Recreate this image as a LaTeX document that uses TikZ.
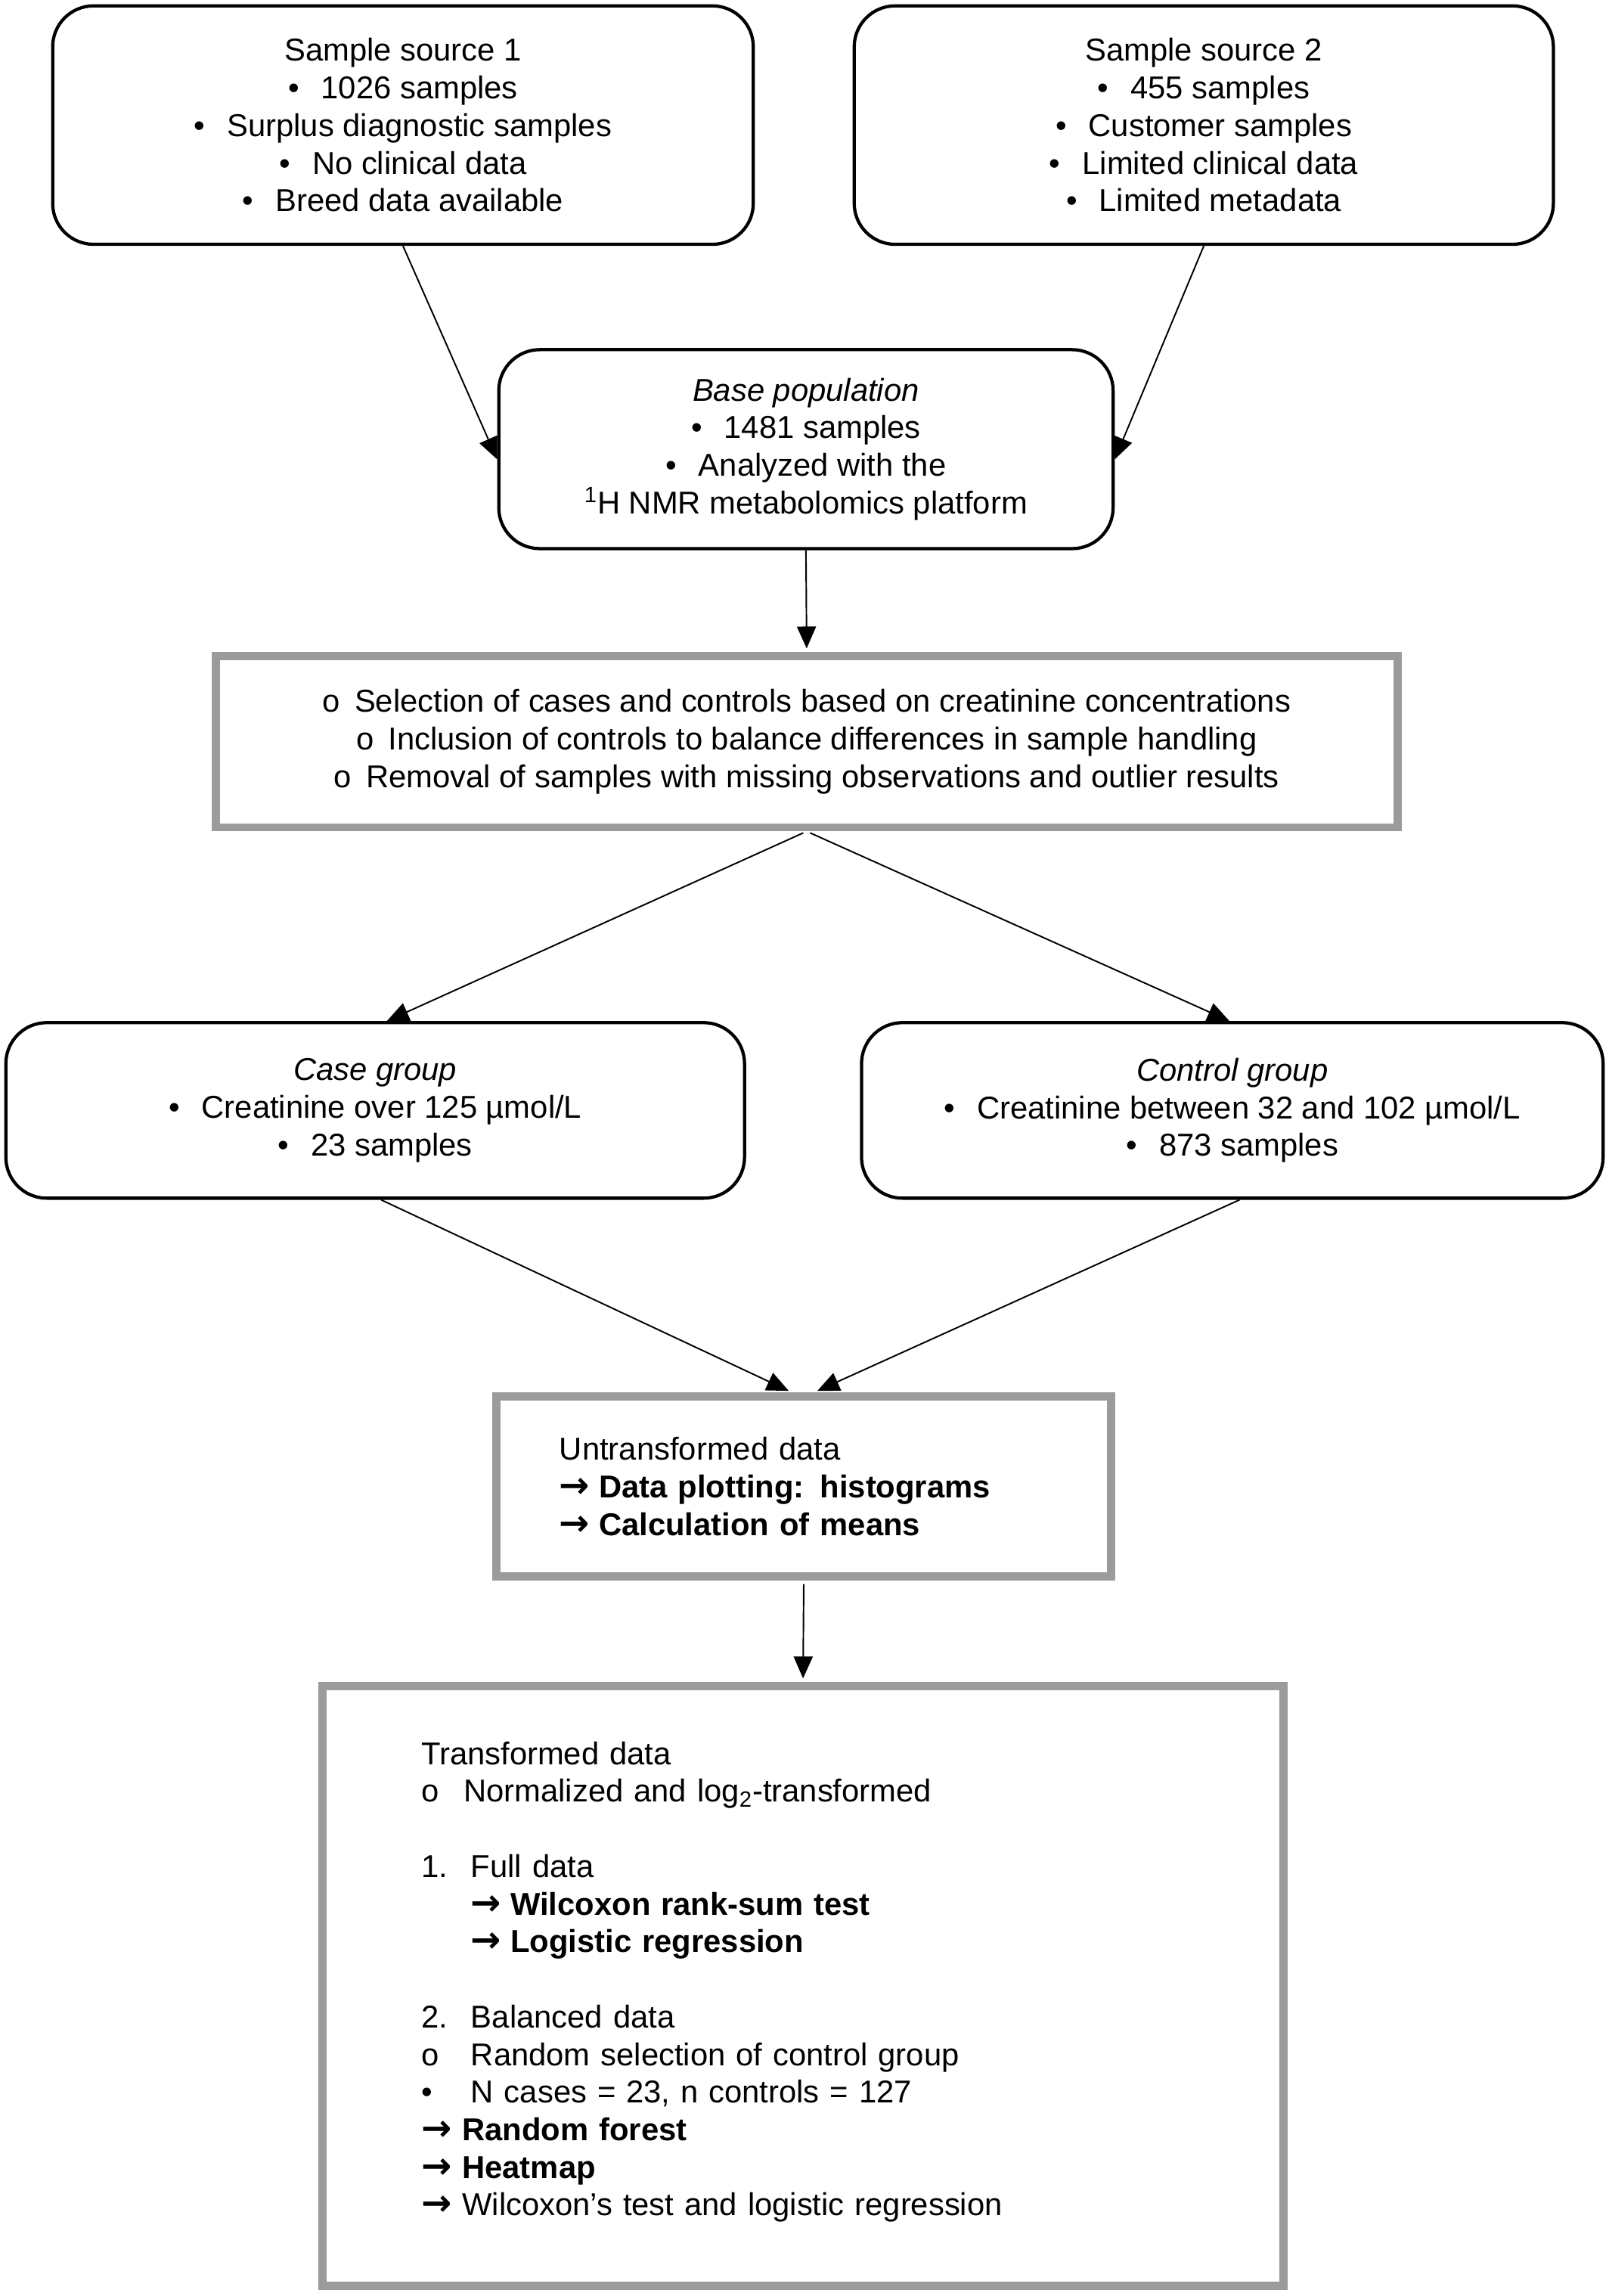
\documentclass[tikz,border=0pt]{standalone}
\usepackage{fontspec}
\setmainfont{Liberation Sans}
\newfontfamily\symfont{DejaVu Sans}
\usetikzlibrary{arrows.meta}
\definecolor{boxgray}{RGB}{155,155,155}
\newcommand{\bul}{•\hspace{15pt}}
\newcommand{\circb}{o\hspace{10pt}}
\newcommand{\arr}[1]{\makebox[#1][l]{\scalebox{1.15}{\symfont\bfseries →}}}
\begin{document}
\begin{tikzpicture}[x=1pt,y=-1pt,
  txt/.style={font=\fontsize{21.6pt}{25.7pt}\selectfont},
  roundbox/.style={txt, draw, line width=2.2pt, rounded corners=28pt, align=center, inner sep=0pt},
  graybox/.style={txt, draw=boxgray, line width=5.5pt, inner ysep=0pt},
  conn/.style={line width=1pt, -{Triangle[length=15pt,width=13pt]}}]
\useasboundingbox (0,0) rectangle (1100,1569.4);
\fill[white] (0,0) rectangle (1100,1569.4);

\node[roundbox, minimum width=479pt, minimum height=163pt] (s1) at (275.5,85.5)
  {Sample source 1\\ \bul 1026 samples\\ \bul Surplus diagnostic samples\\ \bul No clinical data\\ \bul Breed data available};
\node[roundbox, minimum width=478pt, minimum height=163pt] (s2) at (823,85.5)
  {Sample source 2\\ \bul 455 samples\\ \bul Customer samples\\ \bul Limited clinical data\\ \bul Limited metadata};
\node[roundbox, minimum width=420pt, minimum height=136pt] (base) at (551,307)
  {\textit{Base population}\\ \bul 1481 samples\\ \bul Analyzed with the\\ \textsuperscript{1}H NMR metabolomics platform};
\node[graybox, align=center, inner xsep=0pt, minimum width=808pt, minimum height=117pt] (sel) at (551.5,507)
  {\circb Selection of cases and controls based on creatinine concentrations\\
   \circb Inclusion of controls to balance differences in sample handling\\
   \circb Removal of samples with missing observations and outlier results};
\node[roundbox, minimum width=505pt, minimum height=120pt] (case) at (256.5,759)
  {\textit{Case group}\\ \bul Creatinine over 125 µmol/L\\ \bul 23 samples};
\node[roundbox, minimum width=507pt, minimum height=120pt] (ctrl) at (842.5,759)
  {\textit{Control group}\\ \bul Creatinine between 32 and 102 µmol/L\\ \bul 873 samples};
\node[graybox, align=left, text width=334pt, inner xsep=43pt, minimum height=123pt] (untr) at (549.5,1016)
  {Untransformed data\\
   \arr{27pt}\textbf{Data plotting: histograms}\\
   \arr{27pt}\textbf{Calculation of means}};
\node[graybox, align=left, text width=522pt, inner xsep=67.5pt, minimum height=410pt] (trans) at (549,1357.5)
  {Transformed data\\
   \makebox[29pt][l]{o}Normalized and log\textsubscript{2}-transformed\\[25.7pt]
   \makebox[34pt][l]{1.}Full data\\
   \hspace*{34pt}\arr{27pt}\textbf{Wilcoxon rank-sum test}\\
   \hspace*{34pt}\arr{27pt}\textbf{Logistic regression}\\[25.7pt]
   \makebox[34pt][l]{2.}Balanced data\\
   \makebox[34pt][l]{o}Random selection of control group\\
   \makebox[34pt][l]{•}N cases = 23, n controls = 127\\
   \arr{28pt}\textbf{Random forest}\\
   \arr{28pt}\textbf{Heatmap}\\
   \arr{28pt}Wilcoxon’s test and logistic regression\\[-15.7pt]\mbox{}};

\draw[conn] (s1.south) -- ([yshift=-7pt]base.west);
\draw[conn] (s2.south) -- ([yshift=-7pt]base.east);
\draw[conn, shorten >=2.5pt] (base.south) -- (sel.north);
\draw[conn, shorten <=2.5pt] (sel.south) -- ([xshift=8pt]case.north);
\draw[conn, shorten <=2.5pt] (sel.south) -- ([xshift=-2pt]ctrl.north);
\draw[conn, shorten >=2.5pt] ([xshift=4pt]case.south) -- ([xshift=-8pt]untr.north);
\draw[conn, shorten >=2.5pt] ([xshift=5pt]ctrl.south) -- ([xshift=7pt]untr.north);
\draw[conn, shorten <=2.5pt, shorten >=2.5pt] (untr.south) -- (trans.north);
\end{tikzpicture}
\end{document}
